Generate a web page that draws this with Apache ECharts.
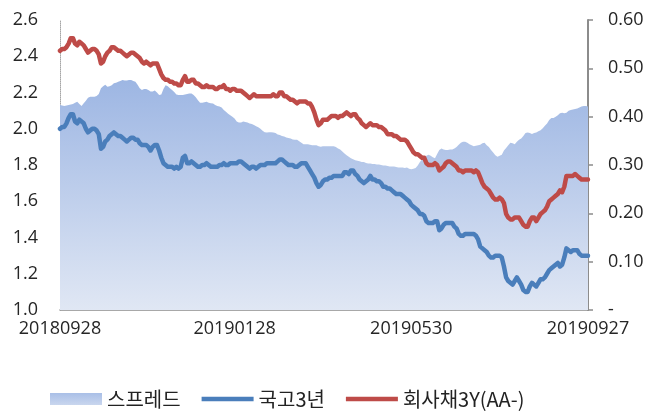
<!DOCTYPE html>
<html>
<head>
<meta charset="utf-8">
<script src="https://cdn.jsdelivr.net/npm/echarts@6/dist/echarts.min.js"></script>
<style>
html,body{margin:0;padding:0;background:#fff;}
#chart{width:658px;height:412px;}
</style>
</head>
<body>
<div id="chart"></div>
<script>
// Business days 2018-09-28 .. 2019-09-27 (Korean market holidays excluded)
const startDate = '2018-09-28';
const endDate = '2019-09-27';
const holidays = ['2018-10-03','2018-10-09','2018-12-25','2018-12-31','2019-01-01','2019-02-04','2019-02-05','2019-02-06','2019-03-01','2019-05-01','2019-05-06','2019-06-06','2019-08-15','2019-09-12','2019-09-13'];
const tickLabels = ['20180928','20190128','20190530','20190927'];

const leftTicks = [1.0,1.2,1.4,1.6,1.8,2.0,2.2,2.4,2.6];
const rightTicks = [0,0.1,0.2,0.3,0.4,0.5,0.6];

const corp3y = [
2.43,2.44,2.44,2.45,2.47,2.50,2.50,2.47,2.46,2.48,
2.47,2.46,2.44,2.42,2.43,2.44,2.44,2.43,2.41,2.36,
2.37,2.40,2.42,2.43,2.45,2.45,2.44,2.43,2.43,2.42,
2.41,2.40,2.41,2.42,2.42,2.41,2.40,2.39,2.37,2.36,
2.37,2.36,2.35,2.36,2.36,2.36,2.33,2.30,2.28,2.27,
2.27,2.26,2.26,2.25,2.25,2.24,2.24,2.27,2.29,2.26,
2.26,2.27,2.27,2.25,2.25,2.24,2.23,2.23,2.24,2.23,
2.23,2.23,2.22,2.22,2.23,2.23,2.24,2.22,2.22,2.21,
2.22,2.22,2.21,2.21,2.21,2.20,2.19,2.18,2.17,2.18,
2.19,2.18,2.18,2.18,2.18,2.18,2.18,2.18,2.18,2.19,
2.18,2.18,2.20,2.20,2.18,2.18,2.17,2.16,2.16,2.15,
2.14,2.15,2.15,2.15,2.15,2.14,2.14,2.12,2.09,2.05,
2.02,2.03,2.05,2.05,2.05,2.06,2.07,2.07,2.07,2.06,
2.07,2.07,2.08,2.09,2.08,2.07,2.08,2.08,2.06,2.05,
2.03,2.02,2.01,2.02,2.03,2.02,2.02,2.02,2.01,2.01,
2.00,1.99,1.97,1.97,1.97,1.96,1.96,1.95,1.94,1.94,
1.94,1.93,1.91,1.89,1.87,1.86,1.86,1.85,1.84,1.84,
1.81,1.80,1.80,1.80,1.81,1.80,1.77,1.78,1.79,1.81,
1.82,1.82,1.81,1.80,1.79,1.77,1.77,1.76,1.77,1.77,
1.77,1.77,1.76,1.77,1.76,1.73,1.70,1.68,1.67,1.66,
1.64,1.62,1.61,1.61,1.62,1.61,1.59,1.53,1.51,1.50,
1.50,1.51,1.51,1.51,1.49,1.47,1.46,1.46,1.49,1.51,
1.51,1.49,1.51,1.53,1.54,1.55,1.57,1.60,1.61,1.62,
1.63,1.64,1.66,1.65,1.68,1.74,1.74,1.74,1.74,1.75,
1.74,1.73,1.72,1.72,1.72,1.72
];

const ktb3y = [
2.00,2.01,2.01,2.03,2.06,2.08,2.08,2.04,2.03,2.05,
2.04,2.03,2.00,1.98,1.99,2.00,2.00,1.99,1.97,1.89,
1.90,1.93,1.94,1.96,1.97,1.98,1.97,1.96,1.96,1.95,
1.94,1.93,1.94,1.95,1.95,1.94,1.94,1.92,1.91,1.91,
1.91,1.90,1.88,1.90,1.91,1.91,1.88,1.84,1.81,1.80,
1.79,1.79,1.79,1.78,1.79,1.78,1.79,1.84,1.85,1.81,
1.81,1.82,1.81,1.80,1.79,1.79,1.80,1.80,1.81,1.80,
1.79,1.79,1.79,1.79,1.80,1.80,1.81,1.80,1.80,1.81,
1.81,1.81,1.81,1.82,1.82,1.81,1.80,1.79,1.78,1.79,
1.79,1.78,1.79,1.80,1.80,1.80,1.81,1.81,1.81,1.81,
1.81,1.82,1.83,1.83,1.82,1.81,1.80,1.80,1.80,1.79,
1.79,1.80,1.81,1.81,1.81,1.79,1.77,1.75,1.73,1.70,
1.68,1.69,1.71,1.72,1.72,1.73,1.73,1.74,1.74,1.74,
1.74,1.74,1.76,1.76,1.75,1.77,1.77,1.75,1.74,1.72,
1.71,1.70,1.71,1.72,1.74,1.72,1.72,1.71,1.71,1.70,
1.68,1.68,1.67,1.67,1.66,1.65,1.64,1.64,1.64,1.63,
1.62,1.61,1.60,1.58,1.57,1.56,1.55,1.53,1.53,1.52,
1.49,1.48,1.48,1.48,1.49,1.49,1.44,1.45,1.47,1.48,
1.48,1.48,1.48,1.46,1.45,1.42,1.41,1.41,1.42,1.42,
1.42,1.42,1.42,1.41,1.39,1.35,1.34,1.33,1.32,1.30,
1.29,1.29,1.30,1.30,1.30,1.29,1.24,1.18,1.16,1.15,
1.14,1.16,1.18,1.16,1.14,1.11,1.10,1.10,1.13,1.15,
1.14,1.13,1.15,1.17,1.17,1.18,1.20,1.22,1.23,1.24,
1.25,1.26,1.24,1.25,1.29,1.34,1.33,1.32,1.33,1.33,
1.33,1.31,1.30,1.30,1.30,1.30
];

const spread = [
0.424,0.423,0.422,0.423,0.424,0.425,0.426,0.429,0.431,0.426,
0.422,0.428,0.433,0.439,0.441,0.441,0.441,0.443,0.447,0.459,
0.463,0.466,0.462,0.463,0.465,0.469,0.470,0.472,0.474,0.476,
0.475,0.475,0.476,0.476,0.474,0.472,0.466,0.459,0.455,0.457,
0.457,0.455,0.452,0.452,0.454,0.450,0.445,0.446,0.457,0.465,
0.463,0.459,0.455,0.451,0.446,0.445,0.445,0.445,0.446,0.447,
0.448,0.448,0.445,0.440,0.434,0.429,0.429,0.430,0.431,0.429,
0.428,0.427,0.424,0.422,0.421,0.419,0.414,0.410,0.406,0.403,
0.400,0.396,0.390,0.388,0.388,0.390,0.389,0.388,0.386,0.385,
0.383,0.380,0.378,0.375,0.371,0.368,0.367,0.368,0.368,0.367,
0.366,0.363,0.362,0.360,0.359,0.357,0.356,0.355,0.353,0.352,
0.352,0.349,0.346,0.343,0.343,0.343,0.342,0.341,0.341,0.341,
0.339,0.338,0.339,0.339,0.339,0.339,0.339,0.339,0.337,0.334,
0.332,0.328,0.324,0.320,0.317,0.314,0.312,0.310,0.309,0.308,
0.306,0.306,0.304,0.303,0.303,0.302,0.302,0.301,0.301,0.300,
0.299,0.299,0.298,0.297,0.297,0.297,0.296,0.295,0.295,0.295,
0.294,0.295,0.292,0.291,0.292,0.294,0.299,0.306,0.312,0.316,
0.319,0.321,0.319,0.316,0.314,0.323,0.331,0.334,0.332,0.331,
0.331,0.332,0.332,0.334,0.337,0.342,0.346,0.348,0.348,0.346,
0.343,0.341,0.339,0.340,0.341,0.342,0.345,0.346,0.341,0.337,
0.331,0.326,0.320,0.317,0.319,0.321,0.330,0.335,0.341,0.346,
0.345,0.343,0.348,0.352,0.355,0.360,0.366,0.367,0.366,0.364,
0.366,0.367,0.370,0.372,0.376,0.381,0.386,0.393,0.397,0.397,
0.400,0.403,0.407,0.408,0.407,0.408,0.412,0.414,0.415,0.416,
0.417,0.419,0.421,0.422,0.422,0.421
];

function buildDates(s, e, hol) {
  const out = [];
  const d = new Date(s + 'T00:00:00Z');
  const end = new Date(e + 'T00:00:00Z');
  while (d <= end) {
    const iso = d.toISOString().slice(0, 10);
    const wd = d.getUTCDay();
    if (wd !== 0 && wd !== 6 && hol.indexOf(iso) < 0) out.push(iso.replace(/-/g, ''));
    d.setUTCDate(d.getUTCDate() + 1);
  }
  return out;
}
const categories = buildDates(startDate, endDate, holidays);

const BLUE = '#4A7EBB';
const RED = '#BE4B48';
const areaGrad = new echarts.graphic.LinearGradient(0, 0, 0, 1, [
  {offset: 0, color: '#9DB6E3'},
  {offset: 1, color: '#E0E7F4'}
]);
const legendGrad = new echarts.graphic.LinearGradient(0, 0, 0, 1, [
  {offset: 0, color: '#A9BFE7'},
  {offset: 1, color: '#C9D6EE'}
]);
const axisFont = {fontFamily: 'Open Sans', fontSize: 18, color: '#262626'};

const chart = echarts.init(document.getElementById('chart'), null, {renderer: 'canvas'});
chart.setOption({
  animation: false,
  backgroundColor: '#ffffff',
  grid: {left: 60, right: 70, top: 20, bottom: 102, containLabel: false},
  legend: {
    left: 50, top: 387, padding: 0,
    itemWidth: 52, itemHeight: 12, itemGap: 21,
    symbolKeepAspect: true,
    textStyle: {fontFamily: 'Noto Sans CJK KR', fontSize: 20, lineHeight: 24, color: '#222222'},
    data: [
      {name: '스프레드', icon: 'rect', itemStyle: {color: legendGrad, borderWidth: 0}},
      {name: '국고3년', icon: 'path://M0,0h52v4.5h-52z', itemStyle: {color: BLUE, borderWidth: 0}},
      {name: '회사채3Y(AA-)', icon: 'path://M0,0h52v4.5h-52z', itemStyle: {color: RED, borderWidth: 0}}
    ]
  },
  xAxis: {
    type: 'category',
    data: categories,
    boundaryGap: false,
    axisLine: {show: true, lineStyle: {color: '#8C8C8C', width: 1.5}},
    axisTick: {show: false},
    axisLabel: Object.assign({
      margin: 10,
      interval: function (idx, val) { return tickLabels.indexOf(val) >= 0; }
    }, axisFont),
    splitLine: {show: false}
  },
  yAxis: [
    {
      type: 'value', position: 'left',
      min: leftTicks[0], max: leftTicks[leftTicks.length - 1], interval: 0.2,
      axisLine: {show: true, lineStyle: {color: '#A6A6A6', width: 1, type: 'dotted'}},
      axisTick: {show: false},
      splitLine: {show: false},
      axisLabel: Object.assign({margin: 22, formatter: v => v.toFixed(1)}, axisFont)
    },
    {
      type: 'value', position: 'right',
      min: rightTicks[0], max: rightTicks[rightTicks.length - 1], interval: 0.1,
      axisLine: {show: true, lineStyle: {color: '#8C8C8C', width: 2}},
      axisTick: {show: true, inside: false, length: 5, lineStyle: {color: '#8C8C8C', width: 1.5}},
      splitLine: {show: false},
      axisLabel: Object.assign({margin: 20, formatter: v => (Math.abs(v) < 1e-9 ? '-' : v.toFixed(2))}, axisFont)
    }
  ],
  series: [
    {
      name: '스프레드', type: 'line', yAxisIndex: 1, data: spread,
      showSymbol: false, symbol: 'none', smooth: false,
      lineStyle: {width: 0, color: '#A9BFE7'},
      itemStyle: {color: '#A9BFE7'},
      areaStyle: {color: areaGrad, opacity: 1},
      z: 1
    },
    {
      name: '국고3년', type: 'line', yAxisIndex: 0, data: ktb3y,
      showSymbol: false, symbol: 'none',
      lineStyle: {width: 4.5, color: BLUE, cap: 'round', join: 'round'},
      itemStyle: {color: BLUE},
      z: 3
    },
    {
      name: '회사채3Y(AA-)', type: 'line', yAxisIndex: 0, data: corp3y,
      showSymbol: false, symbol: 'none',
      lineStyle: {width: 4.5, color: RED, cap: 'round', join: 'round'},
      itemStyle: {color: RED},
      z: 3
    }
  ]
});
</script>
</body>
</html>
